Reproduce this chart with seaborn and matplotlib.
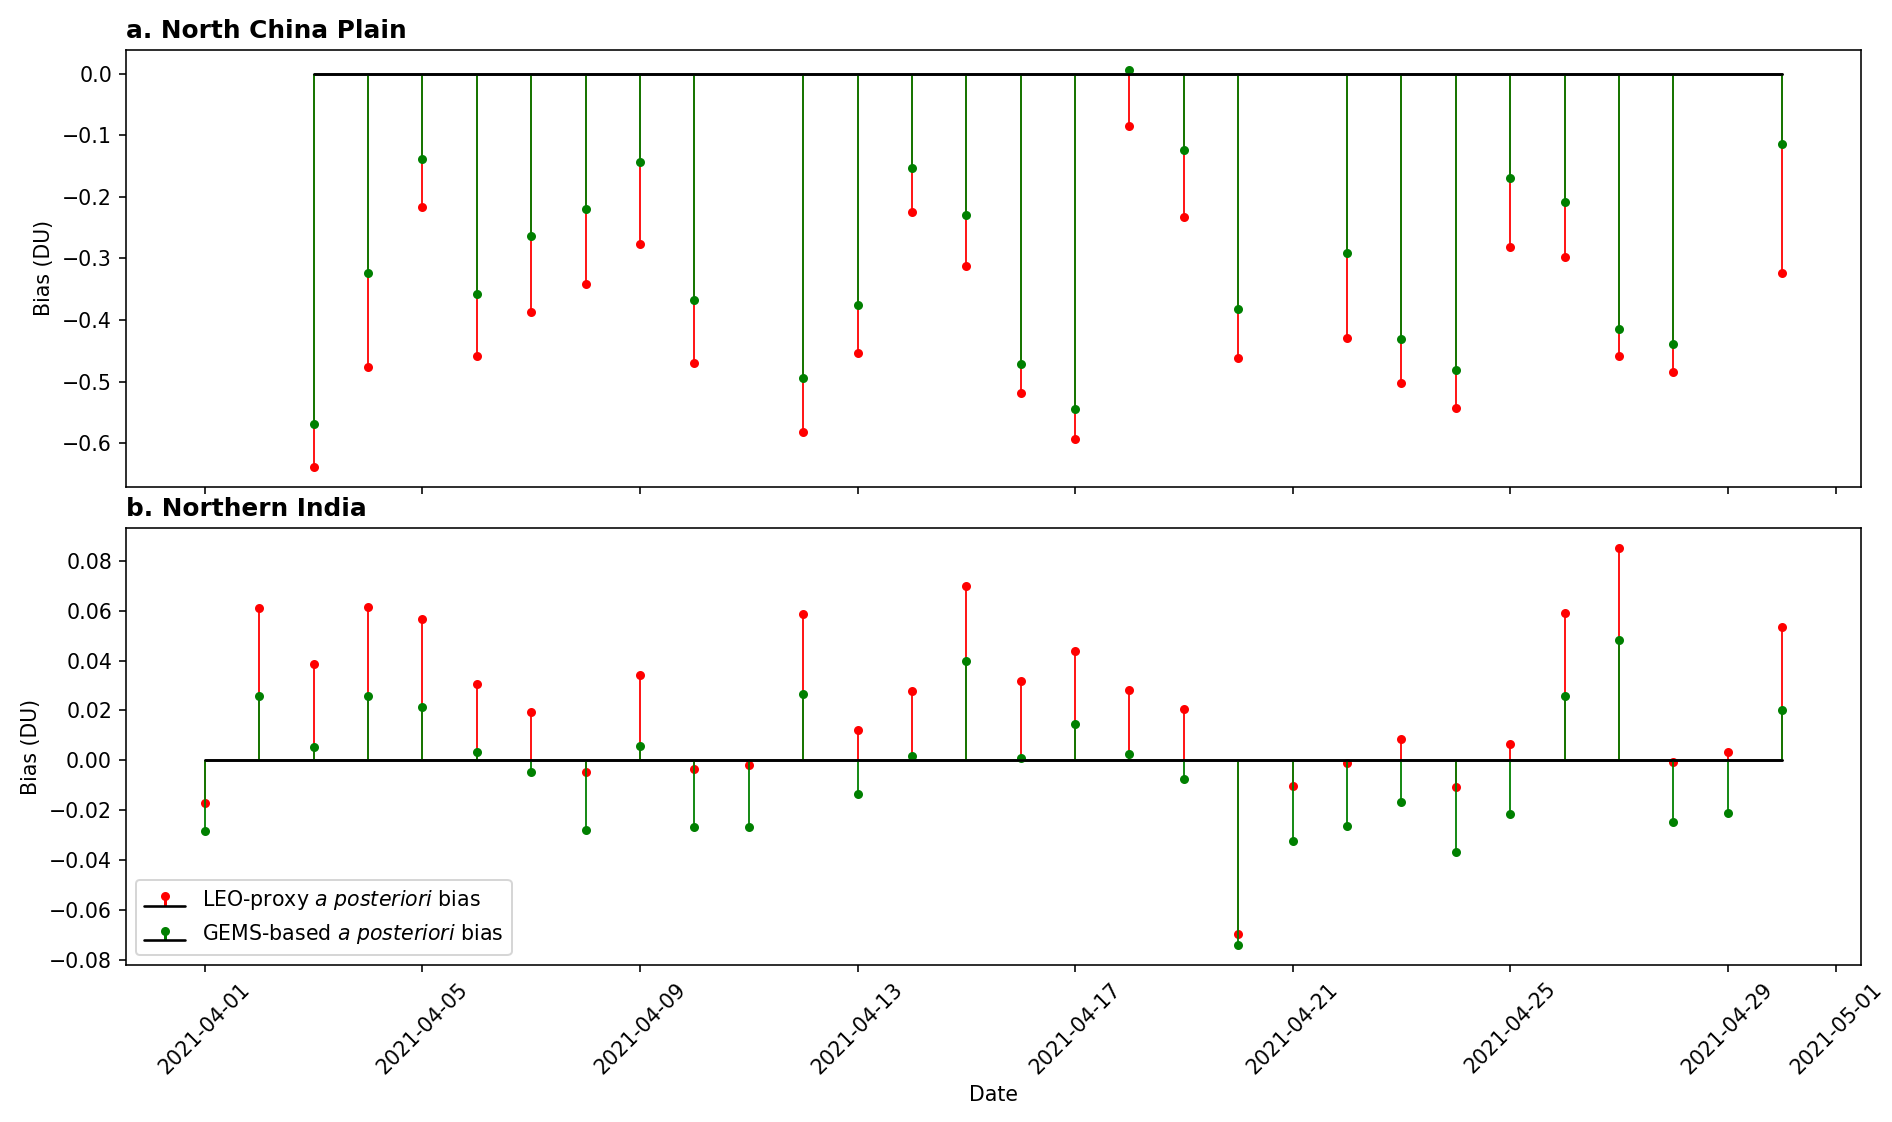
import numpy as np
import pandas as pd
import seaborn as sns
import matplotlib.pyplot as plt

# North China Plain: days of April 2021 with data
ncp_days = [3, 4, 5, 6, 7, 8, 9, 10, 12, 13, 14, 15, 16, 17, 18, 19, 20,
            22, 23, 24, 25, 26, 27, 28, 30]
ncp_leo = [-0.638, -0.477, -0.216, -0.458, -0.387, -0.341, -0.276, -0.470,
           -0.581, -0.453, -0.225, -0.312, -0.518, -0.593, -0.085, -0.232,
           -0.461, -0.429, -0.502, -0.543, -0.282, -0.297, -0.459, -0.484,
           -0.323]
ncp_gems = [-0.568, -0.323, -0.138, -0.357, -0.263, -0.219, -0.144, -0.368,
            -0.494, -0.375, -0.153, -0.229, -0.472, -0.544, 0.006, -0.124,
            -0.382, -0.292, -0.431, -0.481, -0.170, -0.209, -0.415, -0.439,
            -0.115]

# Northern India: every day of April 2021
ind_days = [1, 2, 3, 4, 5, 6, 7, 8, 9, 10, 11, 12, 13, 14, 15, 16, 17, 18,
            19, 20, 21, 22, 23, 24, 25, 26, 27, 28, 29, 30]
ind_leo = [-0.0170, 0.0610, 0.0385, 0.0614, 0.0568, 0.0308, 0.0192, -0.0048,
           0.0344, -0.0036, -0.0020, 0.0586, 0.0121, 0.0279, 0.0701, 0.0317,
           0.0438, 0.0283, 0.0204, -0.0697, -0.0105, -0.0012, 0.0084, -0.0109,
           0.0064, 0.0590, 0.0851, -0.0008, 0.0034, 0.0535]
ind_gems = [-0.0283, 0.0256, 0.0055, 0.0257, 0.0212, 0.0032, -0.0048, -0.0279,
            0.0059, -0.0269, -0.0269, 0.0267, -0.0134, 0.0016, 0.0399, 0.0011,
            0.0145, 0.0024, -0.0075, -0.0742, -0.0323, -0.0265, -0.0168, -0.0369,
            -0.0217, 0.0256, 0.0482, -0.0249, -0.0213, 0.0200]

leo_label = 'LEO-proxy $\\it{a}$ $\\it{posteriori}$ bias'
gems_label = 'GEMS-based $\\it{a}$ $\\it{posteriori}$ bias'


def to_dates(days):
    return pd.to_datetime(['2021-04-%02d' % d for d in days]).to_numpy()


sns.set_style('ticks', {'axes.edgecolor': 'black', 'xtick.color': 'black',
                        'ytick.color': 'black', 'text.color': 'black',
                        'axes.labelcolor': 'black'})
plt.rcParams['font.family'] = ['DejaVu Sans']
plt.rcParams['font.size'] = 10.25
plt.rcParams['axes.linewidth'] = 0.8
plt.rcParams['xtick.major.size'] = 3.5
plt.rcParams['ytick.major.size'] = 3.5
plt.rcParams['xtick.major.width'] = 0.8
plt.rcParams['ytick.major.width'] = 0.8
plt.rcParams['xtick.labelsize'] = 10.25
plt.rcParams['ytick.labelsize'] = 10.25
plt.rcParams['axes.labelsize'] = 10.25
plt.rcParams['legend.fontsize'] = 10.25

fig, (ax1, ax2) = plt.subplots(2, 1, sharex=True,
                               figsize=(1892 / 144, 1122 / 144), dpi=144)
fig.subplots_adjust(left=0.0666, right=0.9836, top=0.9554, bottom=0.140,
                    hspace=0.096)


def draw_stems(ax, x, leo, gems):
    out = []
    for vals, col in [(leo, 'r'), (gems, 'g')]:
        st = ax.stem(x, vals, linefmt=col + '-', markerfmt=col + 'o', basefmt='k-')
        st.markerline.set_markersize(3.5)
        st.stemlines.set_linewidth(0.9)
        st.baseline.set_linewidth(1.3)
        out.append(st)
    return out


draw_stems(ax1, to_dates(ncp_days), ncp_leo, ncp_gems)
ax1.set_title('a. North China Plain', loc='left', fontweight='bold', fontsize=12.4)
ax1.set_ylabel('Bias (DU)')

leo_st, gems_st = draw_stems(ax2, to_dates(ind_days), ind_leo, ind_gems)
ax2.set_title('b. Northern India', loc='left', fontweight='bold', fontsize=12.4)
ax2.set_ylabel('Bias (DU)')
ax2.set_xlabel('Date')
ax2.legend([leo_st, gems_st], [leo_label, gems_label], loc='lower left')
ax2.tick_params(axis='x', labelrotation=45)

plt.savefig('out.png', dpi=144)
